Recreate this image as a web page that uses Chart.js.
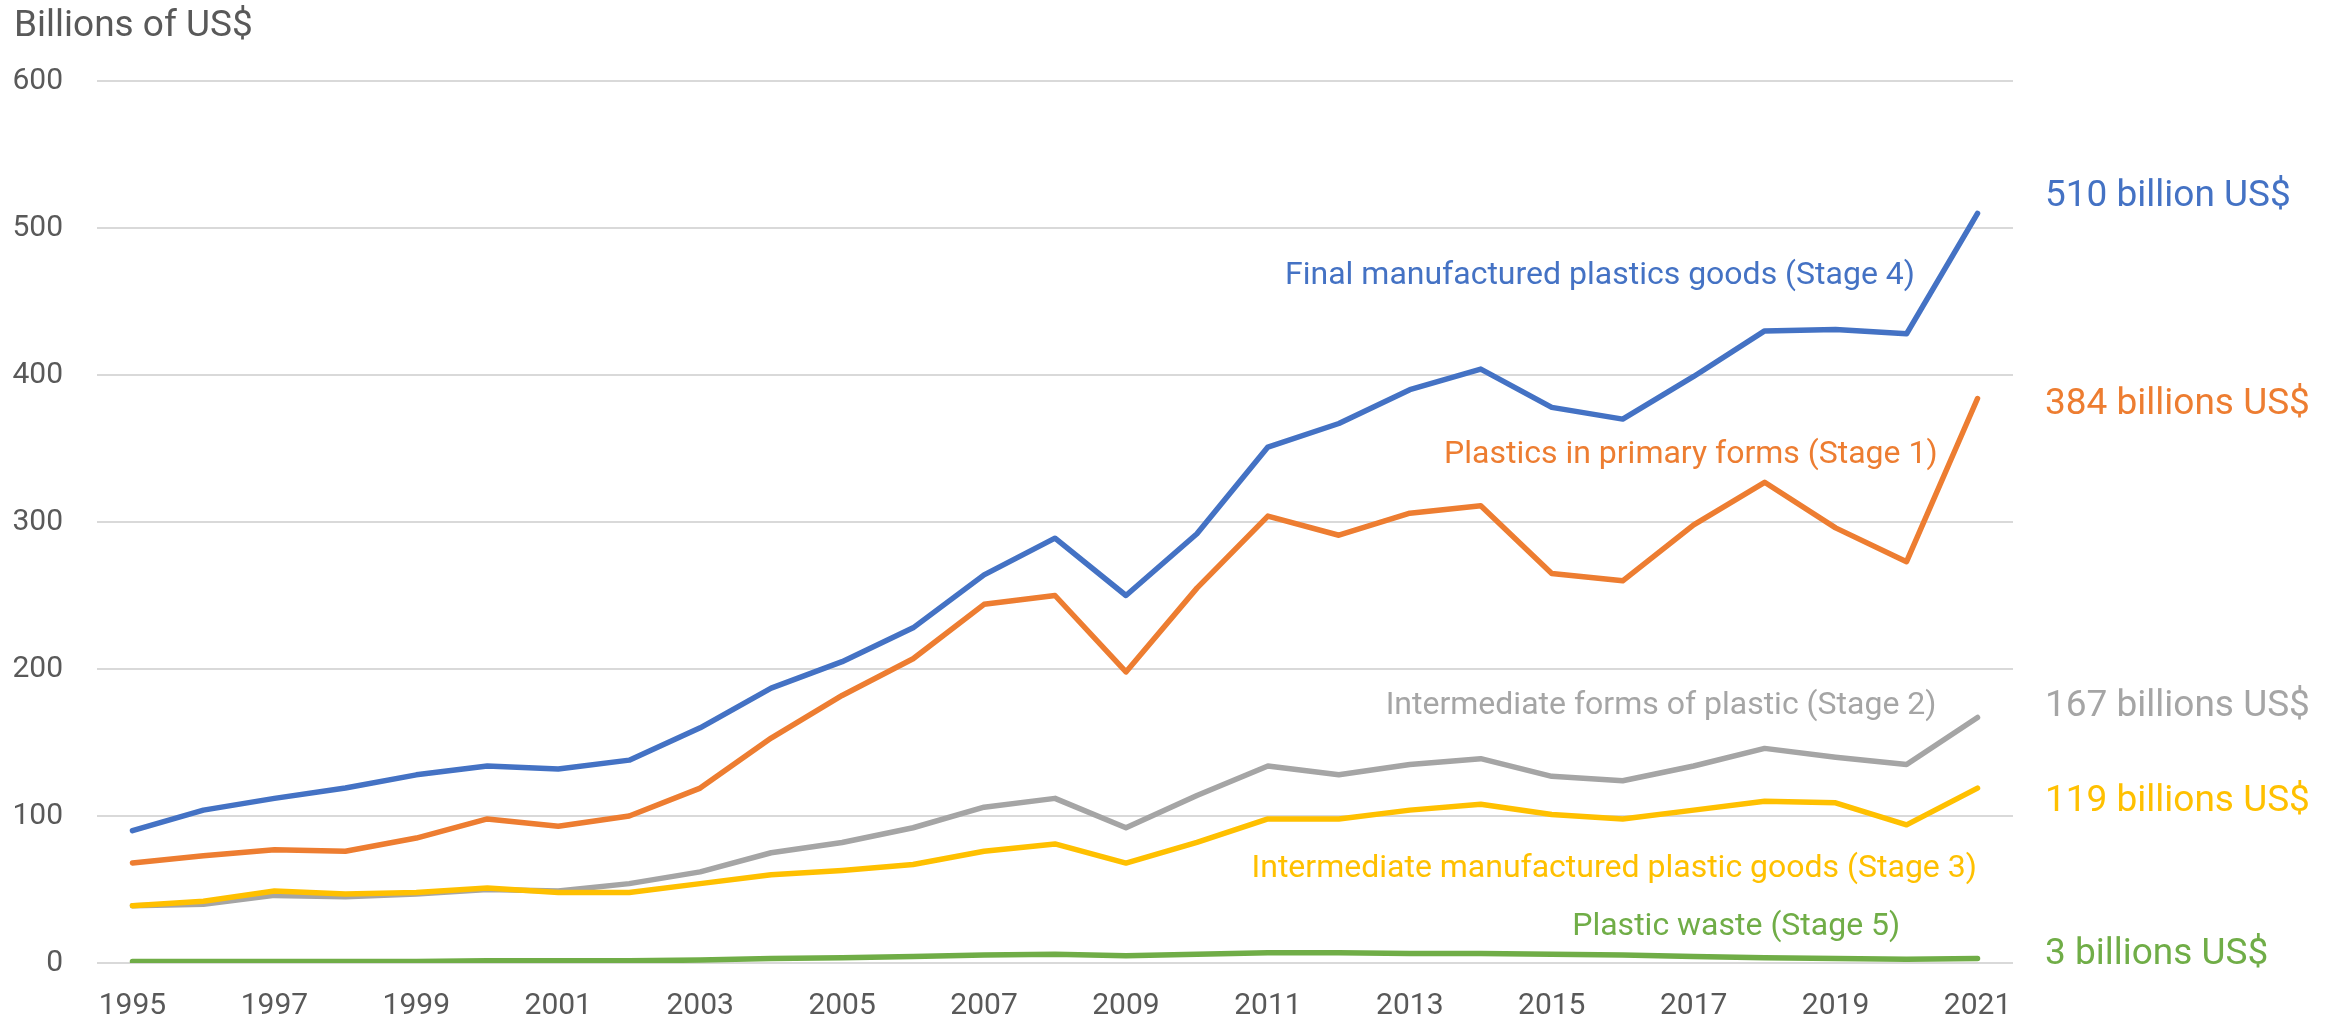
<!DOCTYPE html>
<html>
<head>
<meta charset="utf-8">
<script src="https://cdn.jsdelivr.net/npm/chart.js@4/dist/chart.umd.min.js"></script>
<style>
  html, body { margin:0; padding:0; background:#fff; }
  #wrap { width:2343px; height:1024px; position:relative; }
</style>
</head>
<body>
<div id="wrap"><canvas id="c"></canvas></div>
<script>
// ── data (billions of US$) ───────────────────────────────────────────────
const YEARS = [1995,1996,1997,1998,1999,2000,2001,2002,2003,2004,2005,2006,2007,2008,
  2009,2010,2011,2012,2013,2014,2015,2016,2017,2018,2019,2020,2021];

const STAGE1 = [68,73,77,76,85,98,93,100,119,153,182,207,244,250,198,255,304,291,306,311,265,260,298,327,296,273,384];
const STAGE2 = [39,40,46,45,47,50,49,54,62,75,82,92,106,112,92,114,134,128,135,139,127,124,134,146,140,135,167];
const STAGE3 = [39,42,49,47,48,51,48,48,54,60,63,67,76,81,68,82,98,98,104,108,101,98,104,110,109,94,119];
const STAGE4 = [90,104,112,119,128,134,132,138,160,187,205,228,264,289,250,292,351,367,390,404,378,370,399,430,431,428,510];
const STAGE5 = [1,1,1,1,1,1.5,1.5,1.5,2,3,3.5,4.5,5.5,6,5,6,7,7,6.5,6.5,6,5.5,4.5,3.5,3,2.5,3];

const Y_TICKS = [0,100,200,300,400,500,600];

const NAMES = {
  s1:"Plastics in primary forms (Stage 1)",
  s2:"Intermediate forms of plastic (Stage 2)",
  s3:"Intermediate manufactured plastic goods (Stage 3)",
  s4:"Final manufactured plastics goods (Stage 4)",
  s5:"Plastic waste (Stage 5)",
};
const END_LABELS = {
  s4:"510 billion US$", s1:"384 billions US$", s2:"167 billions US$",
  s3:"119 billions US$", s5:"3 billions US$",
};

const COLORS = { s1:"#ED7D31", s2:"#A5A5A5", s3:"#FFC000", s4:"#4472C4", s5:"#70AD47" };
const TXT = "#595959";
const FONT = "Roboto, 'Open Sans', sans-serif";

// where the in-chart names sit (category index, value) and where the end labels sit (value)
const NAME_AT = { s4:[20.68,467.5], s1:[21.96,345.5], s2:[21.54,174.5], s3:[20.88,64], s5:[22.6,24.5] };
const END_AT  = { s4:521, s1:380, s2:174, s3:109.5, s5:5.5 };

const line = (key, data) => ({
  label: NAMES[key], data, borderColor: COLORS[key], backgroundColor: COLORS[key],
  borderWidth: 5.5, pointRadius: 0, tension: 0,
  borderCapStyle: "round", borderJoinStyle: "round",
});

// text drawn on top: y-axis title, series names, end-of-line labels
const labelsPlugin = {
  id: "labels",
  afterDatasetsDraw(chart){
    const { ctx, scales:{ x, y }, chartArea } = chart;
    ctx.save();
    ctx.textBaseline = "middle";

    ctx.font = `37px ${FONT}`;
    ctx.fillStyle = TXT;
    ctx.textAlign = "left";
    ctx.fillText("Billions of US$", 14, 27);

    ctx.font = `32px ${FONT}`;
    ctx.textAlign = "center";
    for (const k in NAME_AT){
      const [i, v] = NAME_AT[k];
      ctx.fillStyle = COLORS[k];
      ctx.fillText(NAMES[k], x.getPixelForValue(i), y.getPixelForValue(v));
    }

    ctx.font = `37px ${FONT}`;
    ctx.textAlign = "left";
    for (const k in END_AT){
      ctx.fillStyle = COLORS[k];
      ctx.fillText(END_LABELS[k], chartArea.right + 32, y.getPixelForValue(END_AT[k]));
    }
    ctx.restore();
  }
};

new Chart(document.getElementById("c"), {
  type: "line",
  data: {
    labels: YEARS.map(String),
    // first dataset is painted last, so yellow sits over grey
    datasets: [line("s4", STAGE4), line("s1", STAGE1), line("s3", STAGE3), line("s2", STAGE2), line("s5", STAGE5)],
  },
  options: {
    responsive: true, maintainAspectRatio: false, animation: false,
    layout: { padding: { top: 81, right: 330, bottom: 0, left: 0 } },
    plugins: { legend: { display:false }, title: { display:false }, tooltip: { enabled:false } },
    scales: {
      x: {
        offset: true,
        grid: { display:false, drawTicks:false },
        border: { display:false },
        afterFit: s => { s.height = 61; },
        ticks: {
          autoSkip:false, maxRotation:0, padding:25, color:TXT,
          font:{ family:FONT, size:30 },
          callback: (v, i) => i % 2 === 0 ? YEARS[i] : "",
        },
      },
      y: {
        min: Y_TICKS[0], max: Y_TICKS[Y_TICKS.length - 1],
        afterBuildTicks: s => { s.ticks = Y_TICKS.map(v => ({ value:v })); },
        afterFit: s => { s.width = 97; },
        grid: { color:"#d9d9d9", lineWidth:2, drawTicks:false },
        border: { display:false },
        ticks: { padding:34, color:TXT, font:{ family:FONT, size:30 } },
      },
    },
  },
  plugins: [labelsPlugin],
});
</script>
</body>
</html>
